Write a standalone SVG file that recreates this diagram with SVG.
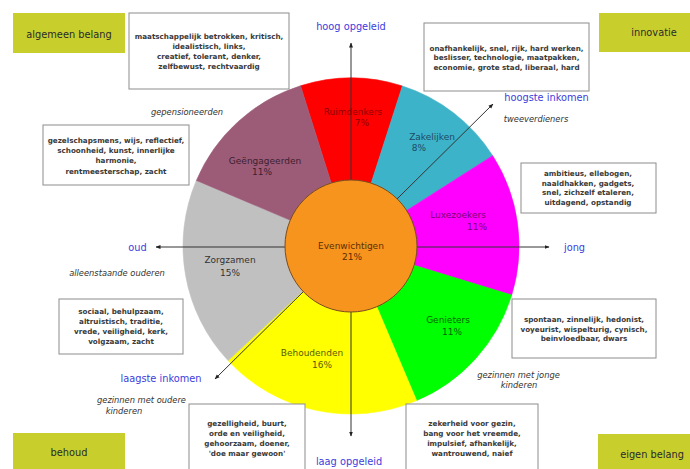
<svg xmlns="http://www.w3.org/2000/svg" width="690" height="469" viewBox="0 0 690 469">
<defs>
<style>
.corner{fill:#c8cf2d}
.ct{font-family:"DejaVu Sans",Verdana,sans-serif;font-size:9.8px;fill:#2a2a2a;text-anchor:middle}
.box{fill:#fff;stroke:#8c8c8c;stroke-width:1}
.bt{font-family:"DejaVu Sans",Verdana,sans-serif;font-size:7.2px;font-weight:bold;fill:#3a3a3a;text-anchor:middle}
.blue{font-family:"DejaVu Sans",Verdana,sans-serif;font-size:9.8px;fill:#3c3cdc;text-anchor:middle}
.it{font-family:"DejaVu Sans",Verdana,sans-serif;font-size:8.3px;font-style:italic;fill:#333;text-anchor:middle}
.pl{font-family:"DejaVu Sans",Verdana,sans-serif;font-size:9px;text-anchor:middle}
.seg{stroke-width:0.6;stroke-linejoin:round}
.ax{stroke:#333;stroke-width:1;fill:none;marker-start:url(#ah);marker-end:url(#ah)}
</style>
<marker id="ah" viewBox="0 0 10 10" refX="9" refY="5" markerWidth="5" markerHeight="5" markerUnits="userSpaceOnUse" orient="auto-start-reverse">
<path d="M0,1 L10,5 L0,9 Z" fill="#222"/>
</marker>
</defs>
<rect width="690" height="469" fill="#fff"/>

<g id="corner-algemeen-belang"><rect class="corner" x="13" y="13" width="112" height="40"/><text class="ct" x="69" y="37.5">algemeen belang</text></g>
<g id="corner-innovatie"><rect class="corner" x="599" y="13" width="91" height="39"/><text class="ct" x="654" y="36">innovatie</text></g>
<g id="corner-behoud"><rect class="corner" x="13" y="433" width="112" height="40"/><text class="ct" x="69" y="456">behoud</text></g>
<g id="corner-eigen-belang"><rect class="corner" x="598" y="434" width="92" height="40"/><text class="ct" x="652" y="458">eigen belang</text></g>

<g id="seg-ruimdenkers"><path class="seg" d="M351,246 L300.5,85.8 A168,168 0 0 1 402.4,86 Z" fill="#ff0000" stroke="#ff0000"/></g>
<g id="seg-zakelijken"><path class="seg" d="M351,246 L402.4,86 A168,168 0 0 1 492.7,155.7 Z" fill="#3db3c9" stroke="#3db3c9"/></g>
<g id="seg-luxezoekers"><path class="seg" d="M351,246 L492.7,155.7 A168,168 0 0 1 511.7,295.1 Z" fill="#ff00ff" stroke="#ff00ff"/></g>
<g id="seg-genieters"><path class="seg" d="M351,246 L511.7,295.1 A168,168 0 0 1 416.6,400.6 Z" fill="#00ff00" stroke="#00ff00"/></g>
<g id="seg-behoudenden"><path class="seg" d="M351,246 L416.6,400.6 A168,168 0 0 1 228.1,360.6 Z" fill="#ffff00" stroke="#ffff00"/></g>
<g id="seg-zorgzamen"><path class="seg" d="M351,246 L228.1,360.6 A168,168 0 0 1 196.4,180.4 Z" fill="#c0c0c0" stroke="#c0c0c0"/></g>
<g id="seg-geengageerden"><path class="seg" d="M351,246 L196.4,180.4 A168,168 0 0 1 300.5,85.8 Z" fill="#9c5c78" stroke="#9c5c78"/></g>

<g id="connectors">
<line class="ax" x1="351" y1="436" x2="351" y2="43"/>
<line class="ax" x1="156" y1="247" x2="549" y2="247"/>
<line class="ax" x1="215" y1="379" x2="493" y2="104"/>
</g>

<g id="node-evenwichtigen">
<circle cx="351" cy="246" r="66" fill="#f7941e" stroke="#7a4c1e" stroke-width="1"/>
<text class="pl" x="351" y="249" fill="#5c2e00">Evenwichtigen</text>
<text class="pl" x="352" y="260" fill="#5c2e00">21%</text>
</g>

<g id="label-ruimdenkers"><text class="pl" x="353" y="115" fill="#8b0000">Ruimdenkers</text><text class="pl" x="362" y="126" fill="#8b0000">7%</text></g>
<g id="label-zakelijken"><text class="pl" x="432" y="140" fill="#1e4a66">Zakelijken</text><text class="pl" x="419" y="151" fill="#1e4a66">8%</text></g>
<g id="label-luxezoekers"><text class="pl" x="458" y="218" fill="#7a007a">Luxezoekers</text><text class="pl" x="477" y="230" fill="#7a007a">11%</text></g>
<g id="label-genieters"><text class="pl" x="448" y="323" fill="#006400">Genieters</text><text class="pl" x="452" y="335" fill="#006400">11%</text></g>
<g id="label-behoudenden"><text class="pl" x="312" y="356" fill="#5a5a00">Behoudenden</text><text class="pl" x="322" y="368" fill="#5a5a00">16%</text></g>
<g id="label-zorgzamen"><text class="pl" x="230" y="263" fill="#333">Zorgzamen</text><text class="pl" x="230" y="276" fill="#333">15%</text></g>
<g id="label-geengageerden"><text class="pl" x="265" y="164" fill="#3d2030">Geëngageerden</text><text class="pl" x="262" y="175" fill="#3d2030">11%</text></g>

<g id="box-ruimdenkers"><rect class="box" x="129" y="13" width="160" height="76"/>
<text class="bt" x="209" y="38.5">maatschappelijk betrokken, kritisch,</text>
<text class="bt" x="209" y="48.5">idealistisch, links,</text>
<text class="bt" x="209" y="58.7">creatief, tolerant, denker,</text>
<text class="bt" x="209" y="68.8">zelfbewust, rechtvaardig</text></g>

<g id="box-geengageerden"><rect class="box" x="43" y="125" width="146" height="60"/>
<text class="bt" x="116" y="142.5">gezelschapsmens, wijs, reflectief,</text>
<text class="bt" x="116" y="152.5">schoonheid, kunst, innerlijke</text>
<text class="bt" x="116" y="163">harmonie,</text>
<text class="bt" x="116" y="173.5">rentmeesterschap, zacht</text></g>

<g id="box-zakelijken"><rect class="box" x="424" y="23" width="165" height="68"/>
<text class="bt" x="506.5" y="50.5">onafhankelijk, snel, rijk, hard werken,</text>
<text class="bt" x="506.5" y="60">beslisser, technologie, maatpakken,</text>
<text class="bt" x="506.5" y="69.5">economie, grote stad, liberaal, hard</text></g>

<g id="box-luxezoekers"><rect class="box" x="521" y="163" width="135" height="50"/>
<text class="bt" x="588" y="175.5">ambitieus, ellebogen,</text>
<text class="bt" x="588" y="185.5">naaldhakken, gadgets,</text>
<text class="bt" x="588" y="195">snel, zichzelf etaleren,</text>
<text class="bt" x="588" y="204.5">uitdagend, opstandig</text></g>

<g id="box-zorgzamen"><rect class="box" x="59" y="299" width="124" height="55"/>
<text class="bt" x="121" y="313.5">sociaal, behulpzaam,</text>
<text class="bt" x="121" y="323.5">altruistisch, traditie,</text>
<text class="bt" x="121" y="333.5">vrede, veiligheid, kerk,</text>
<text class="bt" x="121" y="343.5">volgzaam, zacht</text></g>

<g id="box-genieters"><rect class="box" x="512" y="299" width="144" height="59"/>
<text class="bt" x="584" y="321.5">spontaan, zinnelijk, hedonist,</text>
<text class="bt" x="584" y="331.5">voyeurist, wispelturig, cynisch,</text>
<text class="bt" x="584" y="341">beinvloedbaar, dwars</text></g>

<g id="box-behoudenden"><rect class="box" x="189" y="404" width="116" height="70"/>
<text class="bt" x="247" y="425.5">gezelligheid, buurt,</text>
<text class="bt" x="247" y="435.5">orde en veiligheid,</text>
<text class="bt" x="247" y="445.5">gehoorzaam, doener,</text>
<text class="bt" x="247" y="455.5">'doe maar gewoon'</text></g>

<g id="box-evenwichtigen"><rect class="box" x="406" y="404" width="132" height="70"/>
<text class="bt" x="472" y="425.5">zekerheid voor gezin,</text>
<text class="bt" x="472" y="435.5">bang voor het vreemde,</text>
<text class="bt" x="472" y="445.5">impulsief, afhankelijk,</text>
<text class="bt" x="472" y="455.5">wantrouwend, naief</text></g>

<g id="axis-labels">
<text class="blue" x="351" y="30">hoog opgeleid</text>
<text class="blue" x="349" y="465">laag opgeleid</text>
<text class="blue" x="137.5" y="250.5">oud</text>
<text class="blue" x="574.5" y="250.5">jong</text>
<text class="blue" x="546.5" y="100.5">hoogste inkomen</text>
<text class="blue" x="161" y="382">laagste inkomen</text>
</g>

<g id="group-labels">
<text class="it" x="187" y="115">gepensioneerden</text>
<text class="it" x="536" y="122">tweeverdieners</text>
<text class="it" x="117" y="276">alleenstaande ouderen</text>
<text class="it" x="141.5" y="403">gezinnen met oudere</text>
<text class="it" x="124" y="414">kinderen</text>
<text class="it" x="518.5" y="378">gezinnen met jonge</text>
<text class="it" x="519" y="388">kinderen</text>
</g>
</svg>
